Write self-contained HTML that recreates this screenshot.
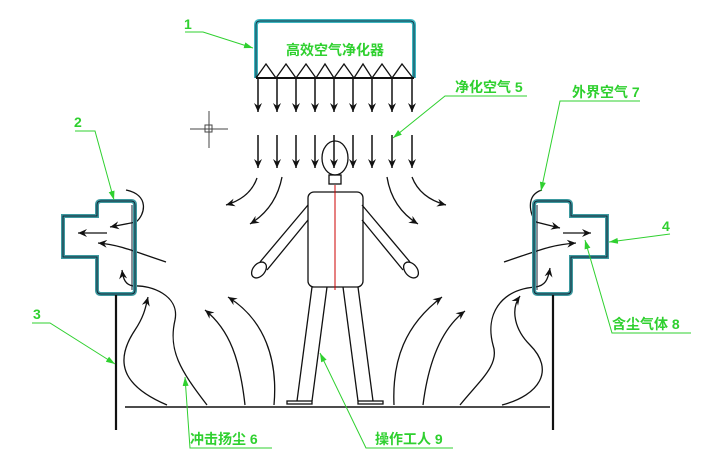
<!DOCTYPE html>
<html><head><meta charset="utf-8"><style>
html,body{margin:0;padding:0;background:#fff;}
svg{display:block;}
text{font-family:"Liberation Sans","Noto Sans CJK SC",sans-serif;fill:#2fd02f;font-weight:bold;}
</style></head><body>
<svg width="720" height="471" viewBox="0 0 720 471" xmlns="http://www.w3.org/2000/svg">
<defs>
<marker id="a" markerWidth="10" markerHeight="8" refX="9" refY="4" orient="auto" markerUnits="userSpaceOnUse">
<path d="M0,0 L9,4 L0,8 L3,4 Z" fill="#111"/></marker>
<marker id="g" markerWidth="10" markerHeight="8" refX="9" refY="4" orient="auto" markerUnits="userSpaceOnUse">
<path d="M0,1 L9,4 L0,7 Z" fill="#2fd02f"/></marker>
</defs>

<!-- purifier -->
<path d="M256,78 L256,25 Q256,21 260,21 L410,21 Q414,21 414,25 L414,78" fill="none" stroke="#3cb6c0" stroke-width="4"/>
<path d="M256,78 L256,25 Q256,21 260,21 L410,21 Q414,21 414,25 L414,78" fill="none" stroke="#134" stroke-width="1"/>
<text x="335" y="55" font-size="14" text-anchor="middle">高效空气净化器</text>
<path d="M256,78 L414,78" stroke="#111" stroke-width="2"/>
<path d="M256,78 L266,64 L276,78 L286,64 L296,78 L306,64 L316,78 L325,64 L334,78 L344,64 L354,78 L363,64 L372,78 L382,64 L392,78 L402,64 L413,78" fill="none" stroke="#111" stroke-width="1.3"/>
<g stroke="#111" stroke-width="1.5" marker-end="url(#a)">
<path d="M258,78 V112"/><path d="M277,78 V112"/><path d="M296,78 V112"/><path d="M315,78 V112"/><path d="M334,78 V112"/><path d="M353,78 V112"/><path d="M372,78 V112"/><path d="M392,78 V112"/><path d="M412,78 V112"/>
<path d="M258,135 V168"/><path d="M277,135 V168"/><path d="M296,135 V168"/><path d="M315,135 V168"/><path d="M334,135 V168"/><path d="M353,135 V168"/><path d="M372,135 V168"/><path d="M392,135 V168"/><path d="M412,135 V168"/>
</g>
<!-- crosshair -->
<g stroke="#444" stroke-width="1" fill="none"><path d="M190,129 H228 M209,111 V148"/><rect x="205" y="125" width="7" height="7"/></g>

<g stroke="#111" stroke-width="1.3" fill="none" marker-end="url(#a)">
<path d="M257,178 Q250,198 226,205"/>
<path d="M282,177 Q276,208 250,224"/>
<path d="M387,177 Q392,208 418,224"/>
<path d="M412,177 Q420,198 446,205"/>
<!-- left rising -->
<path d="M167,405 C120,385 115,360 135,330 C145,315 146,305 148,297"/>
<path d="M207,405 C180,370 168,350 175,320 C180,295 150,285 135,286 C125,286 123,278 122,270"/>
<path d="M245,405 C240,360 230,330 205,310"/>
<path d="M274,405 C278,360 265,320 228,297"/>
<!-- right rising -->
<path d="M394,405 C392,360 405,325 442,297"/>
<path d="M423,405 C428,365 440,330 465,311"/>
<path d="M460,405 C480,380 500,365 493,345 C485,315 500,290 535,287 C545,286 548,280 550,268"/>
<path d="M502,405 C540,395 555,370 530,345 C515,330 510,310 520,296"/>
<!-- left hood air -->
<path d="M126,190 C150,195 145,215 136,222 L110,227"/>
<path d="M107,233 H78"/>
<path d="M166,262 C130,250 120,245 98,243"/>
<!-- right hood air -->
<path d="M542,190 C525,195 530,215 536,222 L560,228"/>
<path d="M563,233 H591"/>
<path d="M504,262 C540,250 550,245 576,243"/>
</g>

<!-- hoods -->
<g fill="none">
<path d="M63,216 L97,216 L97,205 Q97,201 101,201 L131,201 Q135,201 135,205 L135,290 Q135,294 131,294 L101,294 Q97,294 97,290 L97,257 L63,257 Z" stroke="#3d9aa0" stroke-width="4"/>
<path d="M63,216 L97,216 L97,205 Q97,201 101,201 L131,201 Q135,201 135,205 L135,290 Q135,294 131,294 L101,294 Q97,294 97,290 L97,257 L63,257 Z" stroke="#123" stroke-width="1"/>
<path d="M132,205 V290" stroke="#123" stroke-width="1"/>
<path d="M607,216 L571,216 L571,205 Q571,201 567,201 L538,201 Q534,201 534,205 L534,290 Q534,294 538,294 L567,294 Q571,294 571,290 L571,257 L607,257 Z" stroke="#3d9aa0" stroke-width="4"/>
<path d="M607,216 L571,216 L571,205 Q571,201 567,201 L538,201 Q534,201 534,205 L534,290 Q534,294 538,294 L567,294 Q571,294 571,290 L571,257 L607,257 Z" stroke="#123" stroke-width="1"/>
<path d="M537,205 V290" stroke="#123" stroke-width="1"/>
</g>
<g stroke="#111" stroke-width="2.2"><path d="M116,295 V430"/><path d="M553,295 V430"/></g>
<path d="M125,407 H550" stroke="#111" stroke-width="1.5"/>

<!-- person -->
<g stroke="#111" stroke-width="1.3" fill="none">
<ellipse cx="335" cy="158" rx="13" ry="17"/>
<rect x="329" y="175" width="12" height="9"/>
<rect x="308" y="192" width="55" height="95" rx="6"/>
<path d="M308,205 L260,262 M308,220 L267,270"/>
<ellipse cx="259" cy="270" rx="6" ry="9" transform="rotate(40 259 270)"/>
<path d="M362,205 L410,262 M362,220 L403,270"/>
<ellipse cx="411" cy="270" rx="6" ry="9" transform="rotate(-40 411 270)"/>
<path d="M312,287 L297,401 M327,287 L312,401 M343,287 L358,401 M358,287 L373,401"/>
<rect x="287" y="401" width="25" height="3"/><rect x="358" y="401" width="25" height="3"/>
</g>
<path d="M335,185 V290" stroke="#c00" stroke-width="1"/>

<!-- labels -->
<g stroke="#2fd02f" stroke-width="1" fill="none">
<path d="M185,32 H203 L253,48" marker-end="url(#g)"/>
<path d="M527,96 H445 L393,138" marker-end="url(#g)"/>
<path d="M640,101 H560 L541,191" marker-end="url(#g)"/>
<path d="M75,131 H95 L114,200" marker-end="url(#g)"/>
<path d="M32,323 H50 L115,364" marker-end="url(#g)"/>
<path d="M670,234 L609,242" marker-end="url(#g)"/>
<path d="M691,333 H612 L585,240" marker-end="url(#g)"/>
<path d="M272,448 H190 L185,377" marker-end="url(#g)"/>
<path d="M453,448 H366 L320,353" marker-end="url(#g)"/>
</g>
<text x="184" y="29" font-size="14" font-weight="normal">1</text>
<text x="455" y="92" font-size="14">净化空气 5</text>
<text x="572" y="97" font-size="14">外界空气 7</text>
<text x="74" y="127" font-size="14" font-weight="normal">2</text>
<text x="33" y="319" font-size="14" font-weight="normal">3</text>
<text x="662" y="231" font-size="14" font-weight="normal">4</text>
<text x="612" y="329" font-size="14">含尘气体 8</text>
<text x="190" y="444" font-size="14">冲击扬尘 6</text>
<text x="375" y="444" font-size="14">操作工人 9</text>
</svg>
</body></html>
